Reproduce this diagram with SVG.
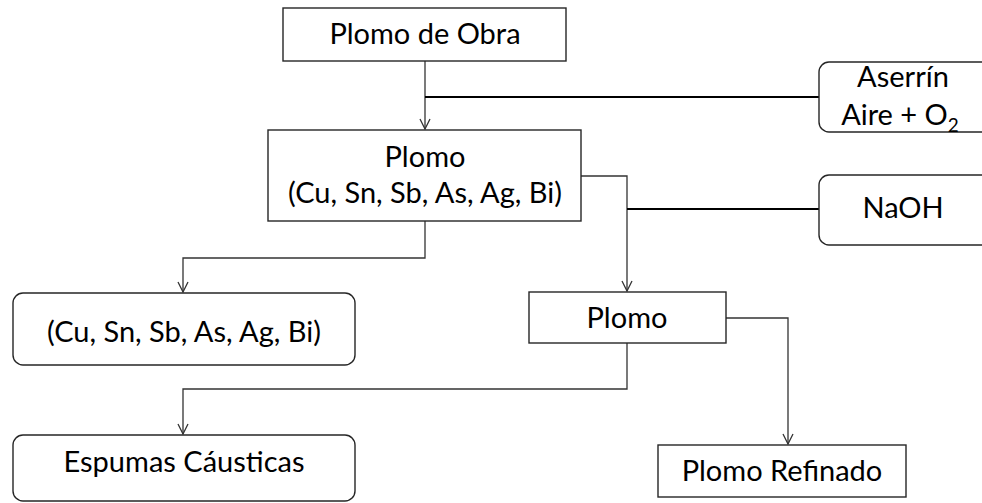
<svg xmlns="http://www.w3.org/2000/svg" width="982" height="503" viewBox="0 0 982 503">
<style>
.box{fill:#fff;stroke:#262626;stroke-width:1.4}
.t{font-family:Lato,"Open Sans","Liberation Sans",sans-serif;font-size:29px;fill:#000;text-anchor:middle}
.c{fill:none;stroke:#333;stroke-width:1.3}
.k{fill:none;stroke:#000;stroke-width:2}
</style>
<defs>
<marker id="ah" viewBox="0 0 12 12" refX="11" refY="6" markerWidth="12" markerHeight="12" markerUnits="userSpaceOnUse" orient="auto">
<path d="M1,1 L11,6 L1,11" fill="none" stroke="#333" stroke-width="1.3"/>
</marker>
</defs>
<g id="connectors">
<path class="c" d="M425,61 V129" marker-end="url(#ah)"/>
<path class="k" d="M425,97 H820"/>
<path class="c" d="M581,176 H627 V291" marker-end="url(#ah)"/>
<path class="k" d="M627,209 H820"/>
<path class="c" d="M425,221 V258 H183 V292" marker-end="url(#ah)"/>
<path class="c" d="M627,343 V389 H183 V434" marker-end="url(#ah)"/>
<path class="c" d="M726,318 H788 V444" marker-end="url(#ah)"/>
</g>
<g id="plomo-obra">
<rect class="box" x="283" y="8" width="283" height="53"/>
<text class="t" x="425" y="44">Plomo de Obra</text>
</g>
<g id="aserrin">
<rect class="box" x="819" y="62" width="175" height="70" rx="10"/>
<text class="t" x="903" y="87">Aserrín</text>
<text class="t" x="900" y="125">Aire + O<tspan font-size="19" dy="7">2</tspan></text>
</g>
<g id="plomo-impuro">
<rect class="box" x="268" y="130" width="313" height="91"/>
<text class="t" x="425" y="167">Plomo</text>
<text class="t" x="425" y="203">(Cu, Sn, Sb, As, Ag, Bi)</text>
</g>
<g id="naoh">
<rect class="box" x="819" y="175" width="175" height="70" rx="10"/>
<text class="t" x="903" y="218">NaOH</text>
</g>
<g id="impurezas">
<rect class="box" x="13" y="293" width="342" height="72" rx="10"/>
<text class="t" x="184" y="342">(Cu, Sn, Sb, As, Ag, Bi)</text>
</g>
<g id="plomo">
<rect class="box" x="529" y="292" width="197" height="51"/>
<text class="t" x="627" y="328">Plomo</text>
</g>
<g id="espumas">
<rect class="box" x="13" y="435" width="342" height="66" rx="10"/>
<text class="t" x="184" y="472">Espumas Cáusticas</text>
</g>
<g id="plomo-refinado">
<rect class="box" x="658" y="445" width="248" height="52"/>
<text class="t" x="782" y="481">Plomo Refinado</text>
</g>
</svg>
